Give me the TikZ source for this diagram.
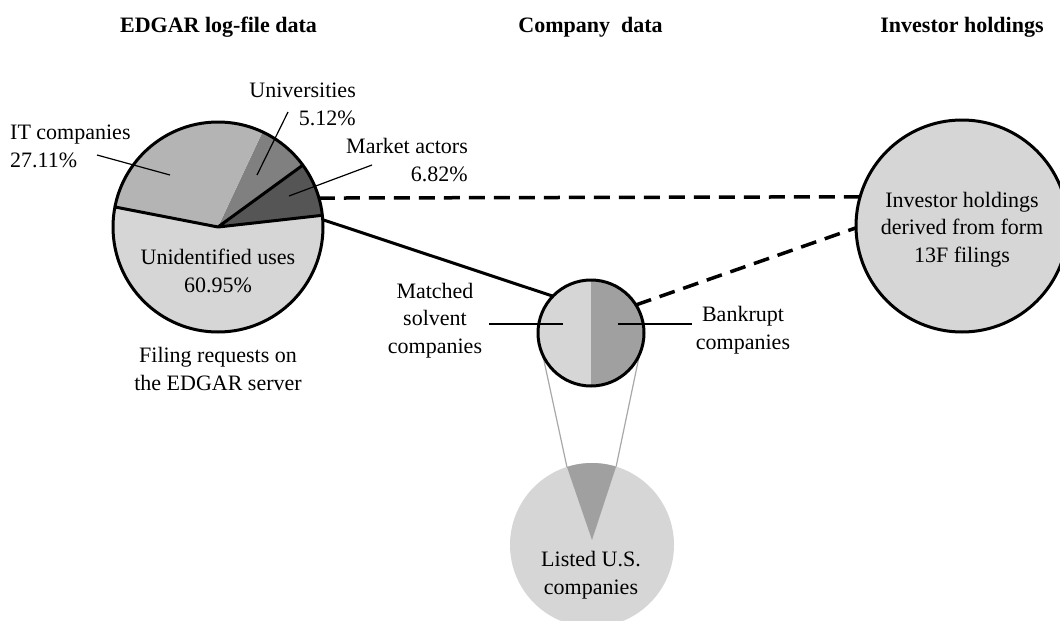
\documentclass[tikz,border=0pt]{standalone}
\usepackage{fontspec}
\setmainfont{Liberation Serif}
\definecolor{lg}{HTML}{D6D6D6}
\definecolor{itg}{HTML}{B4B4B4}
\definecolor{ug}{HTML}{808080}
\definecolor{mg}{HTML}{555555}
\definecolor{bg}{HTML}{A0A0A0}
\definecolor{gl}{HTML}{A8A8A8}
\begin{document}
\begin{tikzpicture}[x=1pt,y=1pt,
  lbl/.style={font=\fontsize{22}{27.5}\selectfont, inner sep=0pt, anchor=base, align=center},
  ttl/.style={font=\fontsize{22}{27}\selectfont\bfseries, inner sep=0pt, anchor=base},
  outline/.style={line width=3pt},
  leader/.style={line width=1.2pt},
  dashconn/.style={line width=3.5pt, dash pattern=on 16pt off 9pt},
  ring/.style={circle, inner sep=0pt, outer sep=0pt},
  gline/.style={gl, line width=1.2pt}]
\useasboundingbox (0,0) rectangle (1060,-621);
\clip (0,0) rectangle (1060,-621);

% titles
\node[ttl] (t1) at (218.5,-32) {EDGAR log-file data};
\node[ttl] (t2) at (590.5,-32) {Company\ \ data};
\node[ttl] (t3) at (962,-32) {Investor holdings};

% left pie
\coordinate (pc) at (218,-227);
\fill[lg] (pc) -- ++(169:105pt) arc[start angle=169,end angle=366.4,radius=105pt] -- cycle;
\fill[mg] (pc) -- ++(6.4:105pt) arc[start angle=6.4,end angle=36.1,radius=105pt] -- cycle;
\fill[ug] (pc) -- ++(36.1:105pt) arc[start angle=36.1,end angle=64.9,radius=105pt] -- cycle;
\fill[itg] (pc) -- ++(64.9:105pt) arc[start angle=64.9,end angle=169,radius=105pt] -- cycle;
\draw[outline] (pc) -- ++(169:105pt) (pc) -- ++(6.4:105pt) (pc) -- ++(36.1:105pt);
\node[ring, draw, outline, minimum size=210pt] (pie) at (pc) {};

% pie labels (anchor = baseline of last line)
\node[lbl, anchor=base west, align=left] (itl) at (10,-167) {IT companies\\27.11\%};
\node[lbl, anchor=base east, align=right] (unl) at (356,-125) {Universities\\5.12\%};
\node[lbl, anchor=base east, align=right] (mkl) at (468,-181) {Market actors\\6.82\%};
\node[lbl] (uid) at (218,-292) {Unidentified uses\\60.95\%};
\node[lbl] (fil) at (218,-390) {Filing requests on\\the EDGAR server};
\coordinate (it1) at (97,-155);   \coordinate (it2) at (170,-175);
\coordinate (un1) at (288,-112);  \coordinate (un2) at (257,-175);
\coordinate (mk1) at (372,-165);  \coordinate (mk2) at (289,-196);
\draw[leader] (it1) -- (it2);
\draw[leader] (un1) -- (un2);
\draw[leader] (mk1) -- (mk2);

% bottom circle (listed companies)
\node[ring, fill=lg, minimum size=164pt] (listed) at (592,-545) {};
\coordinate (wl) at ([shift={(107.8:82pt)}]listed.center);
\coordinate (wr) at ([shift={(72.9:82pt)}]listed.center);
\fill[bg] (592,-540) -- (wl) arc[start angle=107.8,end angle=72.9,radius=82pt] -- cycle;
\node[lbl] (lst) at (591,-594) {Listed U.S.\\companies};

% small circle
\coordinate (sc) at (591,-333);
\draw[gline] ([shift={(180:53pt)}]sc) -- (wl);
\draw[gline] ([shift={(0:53pt)}]sc) -- (wr);
\fill[lg] (sc) -- ++(90:53pt) arc[start angle=90,end angle=270,radius=53pt] -- cycle;
\fill[bg] (sc) -- ++(-90:53pt) arc[start angle=-90,end angle=90,radius=53pt] -- cycle;
\node[ring, draw, outline, minimum size=106pt] (small) at (sc) {};
\node[lbl] (mat) at (435,-353) {Matched\\solvent\\companies};
\node[lbl] (bkr) at (743,-349) {Bankrupt\\companies};
\coordinate (ml1) at (489,-324); \coordinate (ml2) at (563,-324);
\coordinate (bl1) at (618,-324); \coordinate (bl2) at (692,-324);
\draw[leader] (ml1) -- (ml2);
\draw[leader] (bl1) -- (bl2);

% right circle
\node[ring, draw, outline, fill=lg, minimum size=212pt] (inv) at (962,-226) {};
\node[lbl] (invt) at (962,-262) {Investor holdings\\derived from form\\13F filings};

% connectors
\draw[outline] (pie.4.7) -- (small.136);
\draw[dashconn] (pie.16.2) -- (inv.164.5);
\draw[dashconn] (small.32.5) -- (inv.181);
\end{tikzpicture}
\end{document}
